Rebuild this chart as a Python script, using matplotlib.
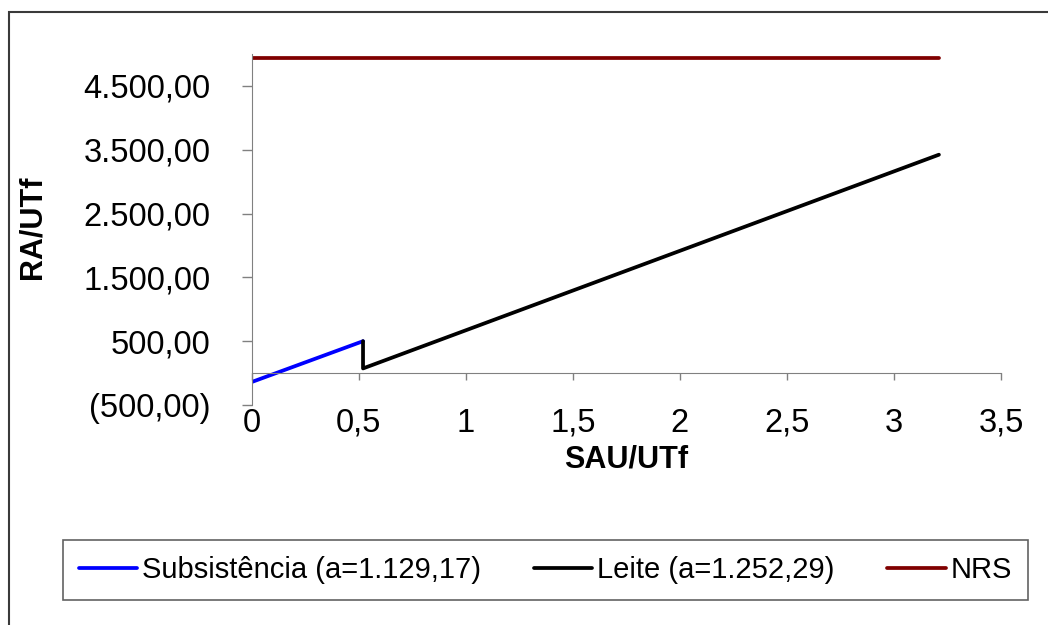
import matplotlib
matplotlib.use("Agg")
import matplotlib.pyplot as plt
from matplotlib.patches import Rectangle
from matplotlib.ticker import FuncFormatter

plt.rcParams['font.family'] = ['Liberation Sans', 'DejaVu Sans']

# Series endpoints (SAU/UTf, RA/UTf)
subs_x = [0.0, 0.52]
subs_y = [-140.0, 500.0]
leite_x = [0.52, 0.52, 3.21]
leite_y = [500.0, 73.0, 3422.0]
nrs_x = [0.0, 3.21]
nrs_y = [4937.0, 4937.0]

labels = ["Subsistência (a=1.129,17)", "Leite (a=1.252,29)", "NRS"]
colors = ["#0000FF", "#000000", "#800000"]

x_ticks = [0, 0.5, 1, 1.5, 2, 2.5, 3, 3.5]
y_ticks = [-500, 500, 1500, 2500, 3500, 4500]


def br_fmt(v, pos=None):
    s = f"{abs(v):,.2f}".replace(",", "X").replace(".", ",").replace("X", ".")
    return f"({s})" if v < 0 else s


def x_fmt(v, pos=None):
    return f"{v:g}".replace(".", ",")


W, H = 1048, 625
fig = plt.figure(figsize=(W / 100, H / 100), dpi=100)
fig.patch.set_facecolor("white")

# outer chart frame
fig.add_artist(Rectangle((9 / W, -0.1), 1.2, 1 - 12 / H + 0.1,
                         transform=fig.transFigure, fill=False,
                         edgecolor="#3a3a3a", lw=1.5))

left, right, top, bottom = 251.7, 1001, 54, 405
ax = fig.add_axes([left / W, 1 - bottom / H, (right - left) / W, (bottom - top) / H])

lw = 2.7
ax.plot(subs_x, subs_y, color=colors[0], lw=lw, label=labels[0], solid_capstyle="round")
ax.plot(leite_x, leite_y, color=colors[1], lw=lw, label=labels[1], solid_capstyle="round")
ax.plot(nrs_x, nrs_y, color=colors[2], lw=lw, label=labels[2], solid_capstyle="round")

ax.set_xlim(0, 3.5)
ax.set_ylim(-500, 5000)

for s in ("top", "right"):
    ax.spines[s].set_visible(False)
ax.spines["left"].set_color("#808080")
ax.spines["bottom"].set_color("#808080")
ax.spines["bottom"].set_position(("data", 0))

ax.set_yticks(y_ticks)
ax.yaxis.set_major_formatter(FuncFormatter(br_fmt))
ax.tick_params(axis="y", direction="out", length=7.5, width=1, color="#808080",
               pad=22, labelsize=23.5)

ax.set_xticks(x_ticks)
ax.tick_params(axis="x", direction="out", length=5, width=1, color="#808080",
               labelbottom=False)

# tick labels sit below the plot area, away from the zero line
sec = ax.secondary_xaxis("bottom")
sec.set_xticks(x_ticks)
sec.xaxis.set_major_formatter(FuncFormatter(x_fmt))
sec.spines["bottom"].set_visible(False)
sec.tick_params(axis="x", length=0, pad=2, labelsize=23.5)
sec.set_xlabel("SAU/UTf", fontsize=22, fontweight="bold", labelpad=4)

ax.set_ylabel("RA/UTf", fontsize=22, fontweight="bold")
ax.yaxis.set_label_coords(-0.273, 0.505)

leg = fig.legend(loc="center", bbox_to_anchor=(63 / W, 1 - 602 / H, 965 / W, 64 / H),
                 mode="expand", ncol=3, fontsize=21, frameon=True, fancybox=False,
                 edgecolor="#3a3a3a", handlelength=2.0, handletextpad=0.17,
                 columnspacing=1.6, borderpad=0.55, borderaxespad=0)
leg.get_frame().set_linewidth(1.2)

fig.savefig("out.png", dpi=100)
